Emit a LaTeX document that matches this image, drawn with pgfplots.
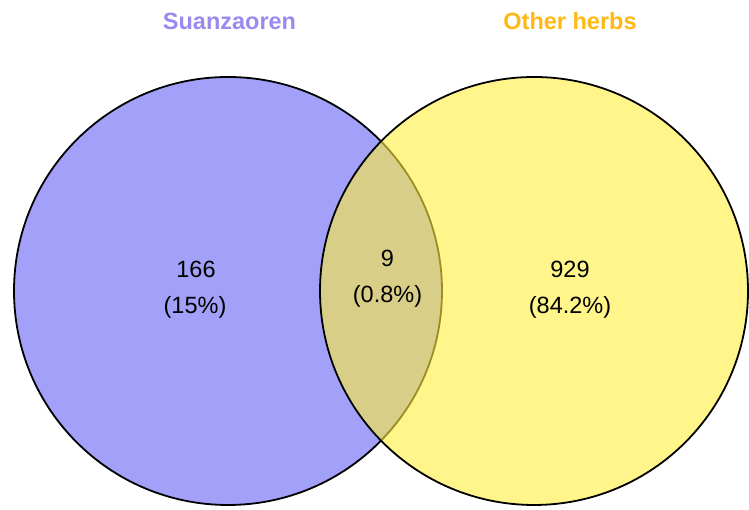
\documentclass[border=0pt]{standalone}
\usepackage{pgfplots}
\pgfplotsset{compat=1.18}
\usepackage{fontspec}
\setmainfont{Liberation Sans}
\definecolor{leftfill}{HTML}{A2A0F8}
\definecolor{rightfill}{HTML}{FFEE3C}
\definecolor{lefttitle}{HTML}{9A8AF0}
\definecolor{righttitle}{HTML}{FFB814}
\begin{document}
\begin{tikzpicture}
\begin{axis}[
  width=749bp, height=510bp, scale only axis,
  xmin=0, xmax=749, ymin=0, ymax=510,
  hide axis, clip=false, set layers,
]
% invisible frame for bounding box
\addplot[draw=none, mark=none] coordinates {(0,0) (749,510)};
% left set: Suanzaoren
\addplot[only marks, mark=*, mark size=214bp,
  mark options={draw=black, line width=1.8bp, fill=leftfill}]
  coordinates {(228,219)};
% right set: Other herbs
\addplot[only marks, mark=*, mark size=214bp,
  mark options={draw=black, line width=1.8bp, fill=rightfill, fill opacity=0.6, draw opacity=1}]
  coordinates {(534,219)};
\begin{pgfonlayer}{axis foreground}
% titles
\node[anchor=base, font=\fontsize{23.5bp}{26bp}\selectfont\bfseries, text=lefttitle] at (axis cs:229.5,480) {Suanzaoren};
\node[anchor=base, font=\fontsize{23.5bp}{26bp}\selectfont\bfseries, text=righttitle] at (axis cs:570,480) {Other herbs};
% counts
\node[anchor=base, font=\fontsize{23.5bp}{26bp}\selectfont] at (axis cs:196,232) {166};
\node[anchor=base, font=\fontsize{23.5bp}{26bp}\selectfont] at (axis cs:195,196) {(15\%)};
\node[anchor=base, font=\fontsize{23.5bp}{26bp}\selectfont] at (axis cs:387.5,243) {9};
\node[anchor=base, font=\fontsize{23.5bp}{26bp}\selectfont] at (axis cs:387.5,207) {(0.8\%)};
\node[anchor=base, font=\fontsize{23.5bp}{26bp}\selectfont] at (axis cs:570,232) {929};
\node[anchor=base, font=\fontsize{23.5bp}{26bp}\selectfont] at (axis cs:570,196) {(84.2\%)};
\end{pgfonlayer}
\end{axis}
\end{tikzpicture}
\end{document}
